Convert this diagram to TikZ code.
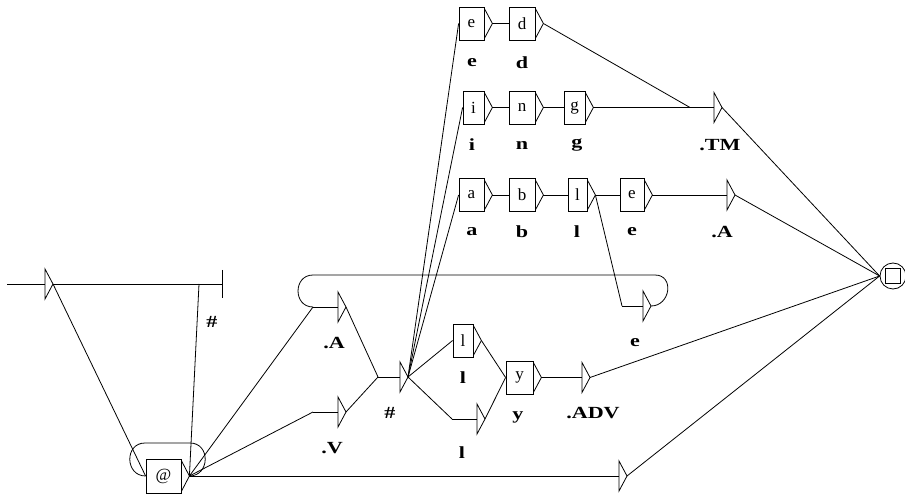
\documentclass[tikz,border=0pt]{standalone}
\usepackage{fontspec}
\setmainfont{Liberation Serif}
\newfontfamily\lblfont[FakeStretch=1.3]{Liberation Serif}
\usetikzlibrary{positioning}

\tikzset{
	lbox/.style={draw,rectangle,minimum width=25pt,minimum height=33pt,inner sep=0pt,font=\fontsize{17}{17}\selectfont},
	lbl/.style={inner sep=0pt,font=\lblfont\bfseries\fontsize{17}{17}\selectfont},
}
% output triangle on the right of a box
\newcommand{\boxtip}[1]{\draw ([yshift=-2pt]#1.north east) -- ([xshift=8pt]#1.east) coordinate (#1t) -- ([yshift=2pt]#1.south east);}
% empty box: bar with triangle, tip named #1
\newcommand{\epsbox}[3]{\coordinate (#1bar) at (#2,#3);
	\draw (#2,#3) ++(0,-15) coordinate (#1top) -- ++(0,30) -- ++(8,-15) coordinate (#1) -- cycle;}

\begin{document}
\begin{tikzpicture}[x=1pt,y=-1pt,line width=0.8pt]
	\useasboundingbox (0,0) rectangle (905,494);
		%Initial state
			\coordinate (start) at (7,284);
			\epsbox{init}{45}{284}
			\draw (start) -- (initbar);
			\coordinate (hashend) at (222,284);
			\coordinate (hashtop) at (199,284);
			\draw (init) -- (hashend);
			\draw (hashend) ++(0,-14) -- ++(0,28);
			\node[lbl] (hashlbl) at (212,322) {\#};
		%@ box and its loop
			\node[lbox,minimum width=35pt,minimum height=34pt] (arob) at (163.5,476) {@};
			\boxtip{arob}
			\draw (init) -- (arob.west);
			\draw (arobt) -- (hashtop);
			\draw (arobt) to[out=0,in=0,looseness=1.6] (190,443) -- (145,443) to[out=180,in=180,looseness=1.6] (arob.west);
		%.A and .V
			\coordinate (Ain) at (313,307);
			\epsbox{A}{338}{307}
			\draw (Ain) -- (Abar);
			\node[lbl] (Albl) at (334,343) {.A};
			\coordinate (Vin) at (313,412);
			\epsbox{V}{338}{412}
			\draw (Vin) -- (Vbar);
			\node[lbl] (Vlbl) at (332,448) {.V};
			\draw (arobt) -- (Ain);
			\draw (arobt) -- (Vin);
		%#
			\coordinate (Hin) at (378,377);
			\epsbox{H}{400}{377}
			\draw (Hin) -- (Hbar);
			\node[lbl] (Hlbl) at (390,413) {\#};
			\draw (A) -- (Hin);
			\draw (V) -- (Hin);
		%ed
			\node[lbox] (e1) at (471.5,23.5) {e};
			\node[lbox,minimum width=26pt] (d) at (522,23.5) {d};
			\foreach \n in {e1,d} {\boxtip{\n}}
			\node[lbl] (e1lbl) at (472,63) {e};
			\node[lbl] (dlbl) at (522,63) {d};
			\draw (e1t) -- (d.west);
		%ing
			\node[lbox,minimum width=21pt] (i) at (473.5,107.5) {i};
			\node[lbox,minimum width=26pt] (n) at (522,107.5) {n};
			\node[lbox,minimum width=21pt] (g) at (574.5,107.5) {g};
			\foreach \n in {i,n,g} {\boxtip{\n}}
			\node[lbl] (ilbl) at (472,145) {i};
			\node[lbl] (nlbl) at (522,145) {n};
			\node[lbl] (glbl) at (577,145) {g};
			\draw (it) -- (n.west);
			\draw (nt) -- (g.west);
			\epsbox{TM}{714}{107.5}
			\coordinate (TMjoin) at (690,107.5);
			\draw (gt) -- (TMbar);
			\draw (dt) -- (TMjoin);
			\node[lbl] (TMlbl) at (720,145) {.TM};
		%able
			\node[lbox] (a) at (471.5,195) {a};
			\node[lbox,minimum width=26pt] (b) at (522,195) {b};
			\node[lbox,minimum width=19pt] (l) at (577.5,195) {l};
			\node[lbox,minimum width=24pt] (e2) at (632,195) {e};
			\foreach \n in {a,b,l,e2} {\boxtip{\n}}
			\node[lbl] (albl) at (472,232) {a};
			\node[lbl] (blbl) at (522,232) {b};
			\node[lbl] (llbl) at (577,232) {l};
			\node[lbl] (e2lbl) at (632,232) {e};
			\draw (at) -- (b.west);
			\draw (bt) -- (l.west);
			\draw (lt) -- (e2.west);
			\epsbox{AA}{727}{195}
			\draw (e2t) -- (AAbar);
			\node[lbl] (AAlbl) at (722,232) {.A};
		%e loop
			\coordinate (Ein) at (622,306);
			\epsbox{E}{643}{306}
			\draw (Ein) -- (Ebar);
			\draw (lt) -- (Ein);
			\node[lbl] (Elbl) at (635,343) {e};
			\draw (E) to[out=0,in=0,looseness=1.6] (655,275) -- (313,275) to[out=180,in=180,looseness=1.6] (Ain);
		%ly
			\node[lbox,minimum width=20pt] (lm) at (463,340.5) {l};
			\boxtip{lm}
			\node[lbl] (lmlbl) at (463,378) {l};
			\coordinate (Lin) at (452,419);
			\epsbox{L}{477}{419}
			\draw (Lin) -- (Lbar);
			\node[lbl] (Llbl) at (462,453) {l};
			\node[lbox,minimum width=27pt] (y) at (519.5,377.5) {y};
			\boxtip{y}
			\node[lbl] (ylbl) at (518,417) {y};
			\draw (lmt) -- (y.west);
			\draw (L) -- (y.west);
			\epsbox{ADV}{582}{377.5}
			\draw (yt) -- (ADVbar);
			\node[lbl] (ADVlbl) at (593,413) {.ADV};
		%from #
			\foreach \n in {e1,i,a,lm} {\draw (H) -- (\n.west);}
			\draw (H) -- (Lin);
		%bottom
			\epsbox{B}{619}{476}
			\draw (arobt) -- (Bbar);
		%Final state
			\node[draw,circle,minimum size=26pt,inner sep=0pt] (fin) at (893,276) {};
			\draw (885.5,268.5) rectangle (900.5,283.5);
			\foreach \n in {TM,AA,ADV,B} {\draw (\n) -- (fin.west);}
\end{tikzpicture}
\end{document}
